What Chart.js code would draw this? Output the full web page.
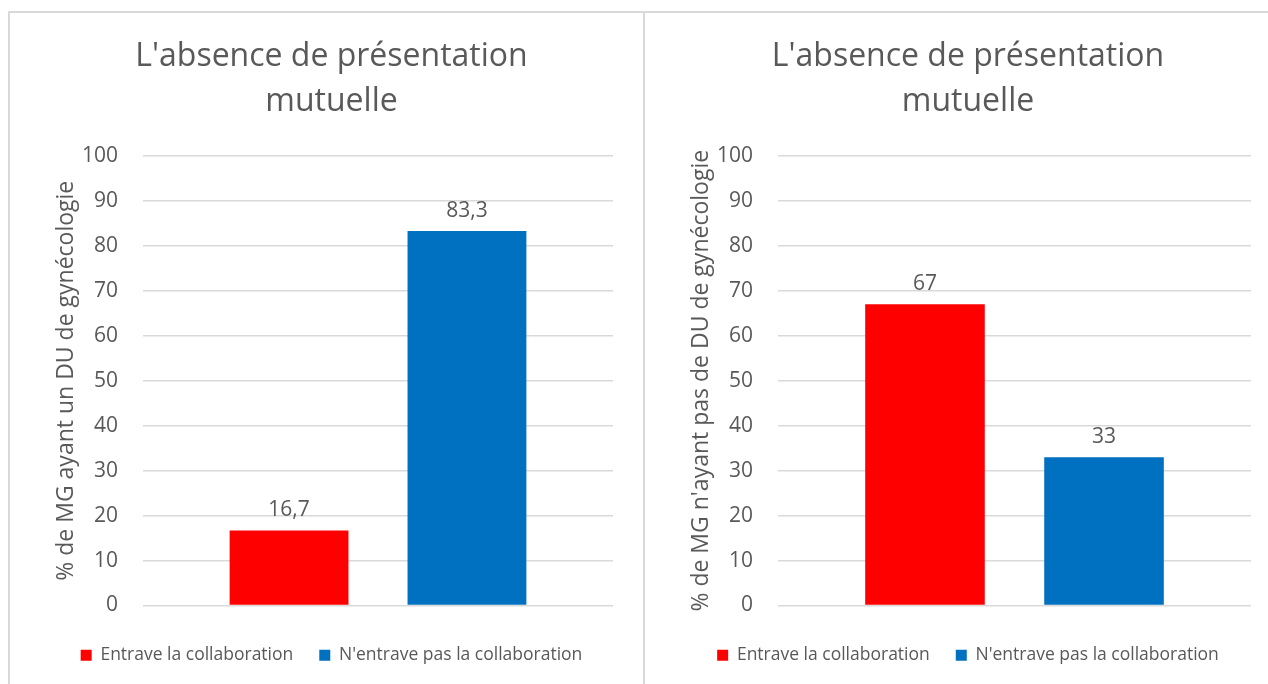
<!DOCTYPE html>
<html>
<head>
<meta charset="utf-8">
<script src="https://cdn.jsdelivr.net/npm/chart.js@4.4.1/dist/chart.umd.min.js"></script>
<style>
  body { margin: 0; background: #fff; width: 1268px; height: 684px; overflow: hidden; position: relative; }
  .panel { position: absolute; top: 11px; height: 720px; border: 2px solid #d9d9d9; box-sizing: border-box; }
  #p1 { left: 8px; width: 637px; }
  #p2 { left: 643px; width: 640px; }
  .panel canvas { position: absolute; left: 0; top: 0; }
</style>
</head>
<body>
<div class="panel" id="p1"><canvas id="chartLeft" width="633" height="671"></canvas></div>
<div class="panel" id="p2"><canvas id="chartRight" width="636" height="671"></canvas></div>
<script>
// data
const categories = [''];
const seriesNames = ['Entrave la collaboration', "N'entrave pas la collaboration"];
const leftEntrave = [16.7];
const leftPasEntrave = [83.3];
const rightEntrave = [67];
const rightPasEntrave = [33];
const yTicks = [0, 10, 20, 30, 40, 50, 60, 70, 80, 90, 100];
const chartTitle = ["L'absence de présentation", 'mutuelle'];
const leftAxisTitle = '% de MG ayant un DU de gynécologie';
const rightAxisTitle = "% de MG n'ayant pas de DU de gynécologie";

const grey = '#595959';
const red = '#ff0000';
const blue = '#0070c0';
const fontFam = "'Open Sans', sans-serif";

// value labels above bars, comma decimals
const barLabels = {
  id: 'barLabels',
  afterDatasetsDraw(chart) {
    const ctx = chart.ctx;
    ctx.save();
    ctx.font = '21px ' + fontFam;
    ctx.fillStyle = grey;
    ctx.textAlign = 'center';
    ctx.textBaseline = 'alphabetic';
    chart.data.datasets.forEach((ds, i) => {
      chart.getDatasetMeta(i).data.forEach((bar, j) => {
        const txt = String(ds.data[j]).replace('.', ',');
        ctx.fillText(txt, bar.x, bar.y - 14);
      });
    });
    ctx.restore();
  }
};

function makeChart(id, a, b, axisTitle) {
  return new Chart(document.getElementById(id), {
    type: 'bar',
    data: {
      labels: categories,
      datasets: [
        { label: seriesNames[0], data: a, backgroundColor: red },
        { label: seriesNames[1], data: b, backgroundColor: blue }
      ]
    },
    options: {
      responsive: false,
      animation: false,
      categoryPercentage: 0.757,
      barPercentage: 0.668,
      layout: { padding: { left: 40, right: 30, top: 0, bottom: 10 } },
      plugins: {
        tooltip: { enabled: false },
        title: {
          display: true,
          text: chartTitle,
          color: grey,
          font: { family: fontFam, size: 32, weight: 'normal', lineHeight: 45 / 32 },
          padding: { top: 21.5, bottom: 31.5 }
        },
        legend: {
          position: 'bottom',
          labels: {
            color: grey,
            font: { family: fontFam, size: 17.5 },
            boxWidth: 11,
            boxHeight: 11,
            padding: 26
          }
        }
      },
      scales: {
        x: {
          afterFit(scale) { scale.height += 7; },
          ticks: { display: false },
          grid: { display: false },
          border: { display: false }
        },
        y: {
          min: 0,
          max: 100,
          afterFit(scale) { scale.width = 93; },
          afterBuildTicks(scale) { scale.ticks = yTicks.map(v => ({ value: v })); },
          ticks: { color: grey, font: { family: fontFam, size: 21 }, padding: 25 },
          grid: { color: '#d9d9d9', lineWidth: 1.5, drawTicks: false },
          border: { display: false },
          title: {
            display: true,
            text: axisTitle,
            color: grey,
            font: { family: fontFam, size: 23 },
            padding: { top: 3, bottom: 0 }
          }
        }
      }
    },
    plugins: [barLabels]
  });
}

makeChart('chartLeft', leftEntrave, leftPasEntrave, leftAxisTitle);
makeChart('chartRight', rightEntrave, rightPasEntrave, rightAxisTitle);
</script>
</body>
</html>
